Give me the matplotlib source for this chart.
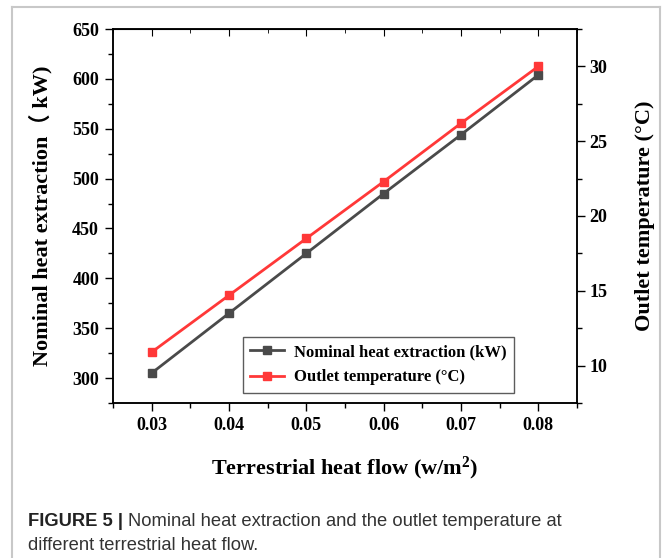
import numpy as np
import matplotlib
matplotlib.use("Agg")
import matplotlib.pyplot as plt
from matplotlib.lines import Line2D
from matplotlib.ticker import MultipleLocator

heat_flow = [0.03, 0.04, 0.05, 0.06, 0.07, 0.08]
heat_extraction = [305, 365, 425, 485, 544, 604]
outlet_temp = [10.9, 14.7, 18.5, 22.3, 26.2, 30.0]

plt.rcParams['font.family'] = ['Liberation Serif', 'Noto Sans CJK SC']
plt.rcParams['font.weight'] = 'bold'
plt.rcParams['mathtext.fontset'] = 'custom'
plt.rcParams['mathtext.bf'] = 'Liberation Serif:bold'
plt.rcParams['mathtext.rm'] = 'Liberation Serif:bold'

fig = plt.figure(figsize=(6.65, 5.58), dpi=100)
ax = fig.add_axes([113/665, 1-403/558, 464/665, 374/558])

gray = '#4a4a4a'
red = '#ff3838'
l1, = ax.plot(heat_flow, heat_extraction, color=gray, lw=2, marker='s', ms=6,
              label='Nominal heat extraction (kW)')
ax.set_xlim(0.025, 0.085)
ax.set_ylim(275, 650)
ax.xaxis.set_major_locator(MultipleLocator(0.01))
ax.xaxis.set_minor_locator(MultipleLocator(0.005))
ax.yaxis.set_major_locator(MultipleLocator(50))
ax.yaxis.set_minor_locator(MultipleLocator(25))
ax.set_xticks(heat_flow)
ax.set_xticklabels(['%.2f' % v for v in heat_flow])
ax.tick_params(which='major', direction='out', length=6, width=1, labelsize=13, pad=4)
ax.tick_params(which='minor', direction='out', length=3.5, width=1)
ax.set_xlabel('Terrestrial heat flow (w/m$\\mathbf{^2}$)', fontsize=16, fontweight='bold', labelpad=15)
ax.set_ylabel('Nominal heat extraction\uff08 kW)', fontsize=16, fontweight='bold', labelpad=14)

top = ax.secondary_xaxis('top')
top.xaxis.set_major_locator(MultipleLocator(0.01))
top.xaxis.set_minor_locator(MultipleLocator(0.005))
top.tick_params(which='major', direction='in', length=5, labeltop=False)
top.tick_params(which='minor', direction='in', length=3)

ax2 = ax.twinx()
l2, = ax2.plot(heat_flow, outlet_temp, color=red, lw=2, marker='s', ms=6,
               label='Outlet temperature (\u00b0C)')
ax2.set_ylim(7.5, 32.5)
ax2.yaxis.set_major_locator(MultipleLocator(5))
ax2.yaxis.set_minor_locator(MultipleLocator(2.5))
ax2.tick_params(which='major', direction='out', length=6, width=1, labelsize=13, pad=3)
ax2.tick_params(which='minor', direction='out', length=3.5, width=1)
ax2.set_ylabel('Outlet temperature (\u00b0C)', fontsize=16, fontweight='bold', labelpad=20)

for a in (ax, ax2):
    for s in a.spines.values():
        s.set_linewidth(1.1)

leg = ax.legend(handles=[l1, l2], loc='lower left', bbox_to_anchor=(0.28, 0.027),
                borderaxespad=0, fontsize=12, frameon=True, fancybox=False,
                handlelength=2.0, borderpad=0.45, labelspacing=0.55, handletextpad=0.6)
leg.get_frame().set_edgecolor('#333333')
leg.get_frame().set_linewidth(1)

# outer frame
fc = '#c8c8c8'
fig.add_artist(Line2D([12/665, 12/665], [0, 1-7/558], color=fc, lw=1.5, transform=fig.transFigure))
fig.add_artist(Line2D([12/665, 660/665], [1-7/558, 1-7/558], color=fc, lw=1.5, transform=fig.transFigure))
fig.add_artist(Line2D([660/665, 660/665], [0, 1-7/558], color=fc, lw=1.5, transform=fig.transFigure))

# caption
cap_font = ['Liberation Sans', 'DejaVu Sans']
t1 = fig.text(28/665, 1-521/558, 'FIGURE 5 |', family=cap_font, fontsize=13.2,
              fontweight='bold', color='#222222', va='center')
fig.canvas.draw()
bb = t1.get_window_extent()
fig.text(bb.x1/665 + 5/665, 1-521/558, 'Nominal heat extraction and the outlet temperature at',
         family=cap_font, fontsize=13.2, fontweight='normal', color='#333333', va='center')
fig.text(28/665, 1-545/558, 'different terrestrial heat flow.', family=cap_font, fontsize=13.2,
         fontweight='normal', color='#333333', va='center')

fig.savefig('out.png', dpi=100)
